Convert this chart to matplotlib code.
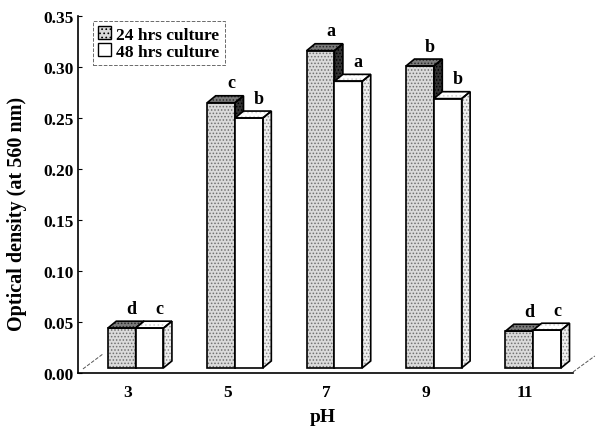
import numpy as np
import matplotlib.pyplot as plt
from matplotlib.patches import Polygon, Patch

# optical density of the cultures at each pH
ph = ['3', '5', '7', '9', '11']
od_24h = [0.039, 0.260, 0.311, 0.296, 0.036]
od_48h = [0.039, 0.245, 0.281, 0.264, 0.037]
sig_24h = ['d', 'c', 'a', 'b', 'd']
sig_48h = ['c', 'b', 'a', 'b', 'c']

plt.rcParams['font.family'] = ['Liberation Serif', 'DejaVu Serif']
plt.rcParams['font.weight'] = 'bold'
plt.rcParams['axes.labelweight'] = 'bold'
plt.rcParams['hatch.linewidth'] = 0.7

fig = plt.figure(figsize=(5.98, 4.27), dpi=100)
ax = fig.add_axes([78 / 598, 1 - 374 / 427, 495 / 598, 357 / 427])

x = np.arange(len(ph))
w = 0.28          # bar width
dx, dy = 0.085, 0.0068   # depth of the 3d boxes
lift = 0.005      # bars stand a little back on the floor


def face(pts, fc, hatch=None, hc='#888888', z=2):
    # stippled fill, then a black outline on top
    ax.add_patch(Polygon(pts, closed=True, facecolor=fc, edgecolor=hc,
                         hatch=hatch, lw=0, zorder=z))
    ax.add_patch(Polygon(pts, closed=True, fill=False, edgecolor='black',
                         lw=1.2, zorder=z + 0.1, joinstyle='miter'))


def box(left, h, front, side, top, z):
    b, t, r = lift, lift + h, left + w
    # front face drawn through bar()
    ax.bar(left, h, w, bottom=lift, align='edge', color=front[0],
           edgecolor=front[2], hatch=front[1], lw=0, zorder=z)
    ax.bar(left, h, w, bottom=lift, align='edge', fill=False,
           edgecolor='black', lw=1.2, zorder=z + 0.1)
    face([(r, b), (r + dx, b + dy), (r + dx, t + dy), (r, t)],
         side[0], side[1], side[2], z)
    face([(left, t), (r, t), (r + dx, t + dy), (left + dx, t + dy)],
         top[0], top[1], top[2], z)


for i in x:
    box(i - 0.20, od_24h[i],
        ('#dadada', '.....', '#707070'),
        ('#333333', '.....', '#000000'),
        ('#7c7c7c', '.....', '#2a2a2a'), 3)
    box(i + 0.08, od_48h[i],
        ('white', None, 'black'),
        ('#eeeeee', '.....', '#8a8a8a'),
        ('white', '....', '#d8d8d8'), 4)
    ax.annotate(sig_24h[i], (i - 0.20 + w / 2 + 0.1, od_24h[i] + lift),
                xytext=(0, 11), textcoords='offset points',
                ha='center', va='baseline', fontsize=13)
    ax.annotate(sig_48h[i], (i + 0.08 + w / 2 + 0.1, od_48h[i] + lift),
                xytext=(0, 11), textcoords='offset points',
                ha='center', va='baseline', fontsize=13)

ax.set_xlim(-0.5, 4.48)
ax.set_ylim(0, 0.35)
ax.set_xticks(x)
ax.set_xticklabels(ph)
ax.set_yticks(np.arange(0, 0.351, 0.05))
ax.set_yticklabels(['%.2f' % v for v in np.arange(0, 0.351, 0.05)])
ax.tick_params(axis='x', length=0, pad=8, labelsize=12.5)
ax.tick_params(axis='y', direction='in', length=3, width=0.8, pad=3,
               labelsize=12.5)

for s in ['top', 'right']:
    ax.spines[s].set_visible(False)
for s in ['left', 'bottom']:
    ax.spines[s].set_linewidth(1.2)

# dashed side edges of the floor
ax.plot([-0.45, -0.25], [0.004, 0.0186], ls='--', lw=0.7, color='#555555',
        clip_on=False, zorder=1)
ax.plot([4.48, 4.70], [0.001, 0.0167], ls='--', lw=0.7, color='#555555',
        clip_on=False, zorder=1)

ax.set_ylabel('Optical density (at 560 nm)', fontsize=14.5)
ax.yaxis.set_label_coords(-0.103, 0.448)
ax.set_xlabel('pH', fontsize=14)
ax.xaxis.set_label_coords(0.495, -0.098)

handles = [Patch(facecolor='#dadada', edgecolor='black', hatch='....', lw=1),
           Patch(facecolor='white', edgecolor='black', lw=1)]
leg = ax.legend(handles, ['24 hrs culture', '48 hrs culture'],
                loc='upper left', bbox_to_anchor=(0.03, 0.986),
                borderaxespad=0,
                fontsize=12.5, handlelength=0.75, handleheight=0.75,
                handletextpad=0.3, labelspacing=0.05, borderpad=0.3,
                fancybox=False, frameon=True)
leg.get_frame().set_linestyle('--')
leg.get_frame().set_edgecolor('#444444')
leg.get_frame().set_linewidth(0.7)

fig.savefig('out.png', dpi=100)
